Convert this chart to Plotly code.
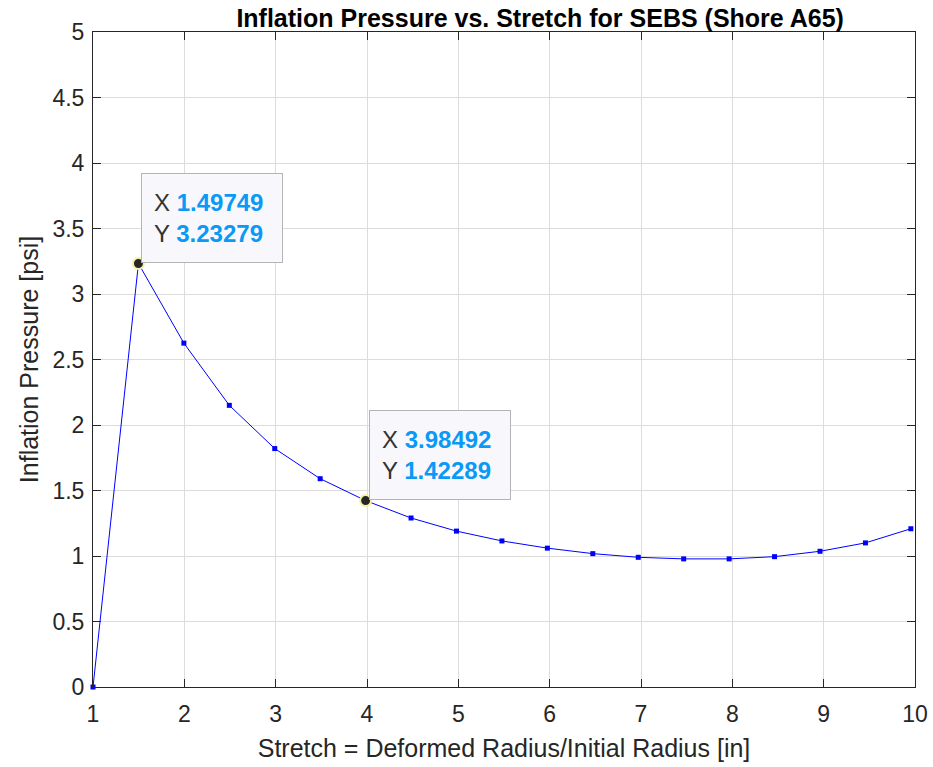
import plotly.graph_objects as go

# Data
stretch = [1.0, 1.49749, 1.99497, 2.49246, 2.98995, 3.48744, 3.98492, 4.48241,
           4.97990, 5.47739, 5.97487, 6.47236, 6.96985, 7.46734, 7.96482,
           8.46231, 8.95980, 9.45729, 9.95477]
pressure = [0.0, 3.23279, 2.625, 2.150, 1.820, 1.590, 1.42289, 1.290, 1.190,
            1.115, 1.060, 1.018, 0.990, 0.978, 0.978, 0.995, 1.036, 1.100, 1.208]

tip_x = [1.49749, 3.98492]
tip_y = [3.23279, 1.42289]

x_ticks = [1, 2, 3, 4, 5, 6, 7, 8, 9, 10]
y_ticks = [0, 0.5, 1, 1.5, 2, 2.5, 3, 3.5, 4, 4.5, 5]
y_tick_text = ["0", "0.5", "1", "1.5", "2", "2.5", "3", "3.5", "4", "4.5", "5"]

FONT = "Liberation Sans, Arial, Helvetica, sans-serif"
AX = "#262626"

fig = go.Figure()
fig.add_trace(go.Scatter(
    x=stretch, y=pressure, mode="lines+markers",
    line=dict(color="rgb(0,0,255)", width=1),
    marker=dict(symbol="square", size=5, color="rgb(0,0,255)"),
    showlegend=False, hoverinfo="skip", cliponaxis=False,
))
fig.add_trace(go.Scatter(
    x=tip_x, y=tip_y, mode="markers",
    marker=dict(size=11, color="#262626", line=dict(color="#f5f0a8", width=2)),
    showlegend=False, hoverinfo="skip", cliponaxis=False,
))

for tx, ty in zip(tip_x, tip_y):
    fig.add_annotation(
        x=tx, y=ty, xref="x", yref="y",
        xanchor="left", yanchor="bottom", xshift=3, yshift=1,
        showarrow=False, align="left", valign="middle",
        width=116, height=64, borderpad=12,
        bgcolor="#f8f8fc", bordercolor="#b4b4b4", borderwidth=1,
        font=dict(family=FONT, size=24, color="#333333"),
        text=(f"X <b><span style='color:#0a99f5'>{tx:.5f}</span></b><br>"
              f"Y <b><span style='color:#0a99f5'>{ty:.5f}</span></b>"),
    )

fig.update_layout(
    width=933, height=767,
    margin=dict(l=93, r=18, t=32, b=80, autoexpand=False),
    paper_bgcolor="white", plot_bgcolor="white",
    font=dict(family=FONT, color=AX),
    title=dict(text="<b>Inflation Pressure vs. Stretch for SEBS (Shore A65)</b>",
               x=0.544, xanchor="center", y=0.988, yanchor="top",
               xref="paper",
               font=dict(family=FONT, size=25, color="#000000")),
)
fig.update_xaxes(
    range=[1, 10], tickvals=x_ticks, ticktext=[str(v) for v in x_ticks],
    showgrid=True, gridcolor="#dcdcdc", gridwidth=1,
    showline=True, linecolor=AX, linewidth=1, mirror="ticks",
    ticks="inside", ticklen=8, tickcolor=AX, automargin=False,
    ticklabelstandoff=6,
    tickfont=dict(family=FONT, size=23, color=AX),
    zeroline=False,
    title=dict(text="Stretch = Deformed Radius/Initial Radius [in]",
               font=dict(family=FONT, size=25, color=AX), standoff=13),
)
fig.update_yaxes(
    range=[0, 5], tickvals=y_ticks, ticktext=y_tick_text,
    showgrid=True, gridcolor="#dcdcdc", gridwidth=1,
    showline=True, linecolor=AX, linewidth=1, mirror="ticks",
    ticks="inside", ticklen=8, tickcolor=AX, automargin=False,
    ticklabelstandoff=3,
    tickfont=dict(family=FONT, size=23, color=AX),
    zeroline=False,
    title=dict(text="Inflation Pressure [psi]",
               font=dict(family=FONT, size=25, color=AX), standoff=6),
)

fig.write_html("out.html")
